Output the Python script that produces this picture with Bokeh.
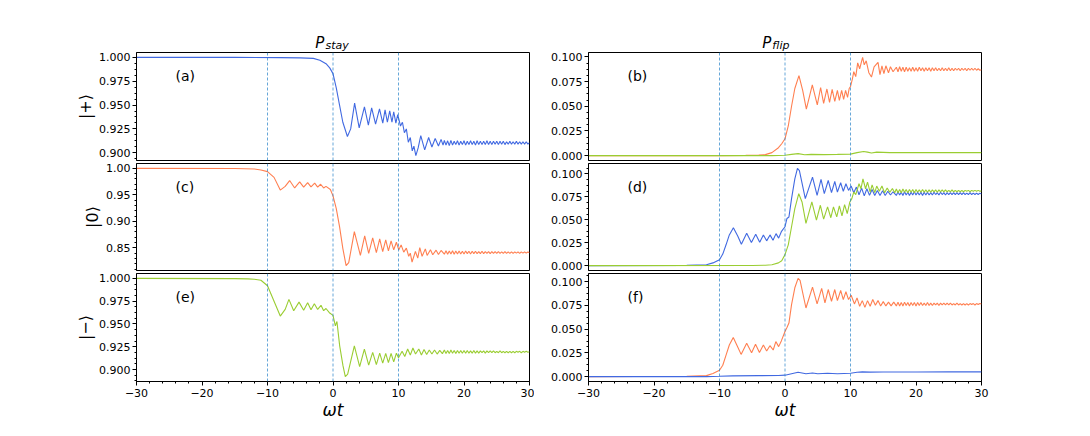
from bokeh.plotting import figure
from bokeh.models import Range1d, FixedTicker, PrintfTickFormatter, Label, Span
from bokeh.layouts import column, row
from bokeh.embed import file_html
from bokeh.resources import INLINE

# ---------------- data ----------------
TAIL_T = [17.0, 17.25, 17.5, 17.75, 18.0, 18.25, 18.5, 18.75, 19.0, 19.25,
          19.5, 19.75, 20.0, 20.25, 20.5, 20.75, 21.0, 21.25, 21.5, 21.75,
          22.0, 22.25, 22.5, 22.75, 23.0, 23.25, 23.5, 23.75, 24.0, 24.25,
          24.5, 24.75, 25.0, 25.25, 25.5, 25.75, 26.0, 26.25, 26.5, 26.75,
          27.0, 27.25, 27.5, 27.75, 28.0, 28.25, 28.5, 28.75, 29.0, 29.25,
          29.5, 29.75, 30.0]

# (a) P_stay |+>  (blue)
A_T = [-30, -15, -8, -5, -3, -2, -1, -0.5, 0,
       0.5, 1.0, 1.5, 2.2, 2.7, 3.3, 4.0, 4.8, 5.4, 5.9,
       6.5, 7.1, 7.6, 7.95, 8.3, 8.66, 9.0, 9.27, 9.6, 9.88,
       10.1, 10.3, 10.6, 10.9, 11.2, 11.5, 11.8, 12.1, 12.35, 12.65,
       13.0, 13.4, 14.0, 14.6, 15.1, 15.6, 16.1, 16.5, 16.8]
A_Y = [1.000, 1.000, 0.9998, 0.9995, 0.999, 0.997, 0.993, 0.989, 0.983,
       0.968, 0.950, 0.932, 0.917, 0.925, 0.952, 0.926, 0.948, 0.929, 0.947,
       0.930, 0.946, 0.931, 0.945, 0.932, 0.944, 0.932, 0.943, 0.931, 0.940,
       0.934, 0.928, 0.932, 0.921, 0.925, 0.911, 0.916, 0.902, 0.907, 0.897,
       0.905, 0.918, 0.903, 0.916, 0.906, 0.915, 0.907, 0.914, 0.908]
A_TAIL = [0.913, 0.908, 0.9125, 0.9075, 0.913, 0.908, 0.912, 0.9085, 0.9125, 0.908,
          0.912, 0.9085, 0.9125, 0.908, 0.912, 0.9085, 0.9125, 0.9085, 0.912, 0.908,
          0.9125, 0.9085, 0.912, 0.9085, 0.912, 0.9085, 0.9125, 0.9085, 0.912, 0.9085,
          0.912, 0.909, 0.912, 0.9085, 0.912, 0.909, 0.912, 0.9085, 0.9115, 0.909,
          0.912, 0.909, 0.9115, 0.909, 0.912, 0.909, 0.9115, 0.909, 0.9115, 0.909,
          0.9115, 0.909, 0.9105]

# (b) P_flip from |+>  (orange -> |0>, green -> |->)
B_T = [-30, -10, -6, -4, -3, -2, -1, -0.5, 0,
       0.5, 1.0, 1.5, 2.13, 2.7, 3.26, 4.17, 4.93, 5.44, 5.9,
       6.4, 6.8, 7.2, 7.6, 8.0, 8.3, 8.65, 8.95, 9.25, 9.55,
       9.8, 10.0, 10.3, 10.5, 10.8, 11.1, 11.4, 11.85, 12.1, 12.4,
       12.8, 13.2, 13.6, 14.2, 14.5, 14.8, 15.1, 15.4, 15.8, 16.1, 16.5]
B_Y = [0.0, 0.0, 0.0002, 0.0006, 0.001, 0.003, 0.008, 0.012, 0.017,
       0.030, 0.050, 0.068, 0.081, 0.066, 0.047, 0.0717, 0.0513, 0.069, 0.053,
       0.0675, 0.054, 0.067, 0.055, 0.066, 0.056, 0.066, 0.057, 0.066, 0.059,
       0.068, 0.070, 0.078, 0.085, 0.080, 0.094, 0.088, 0.0995, 0.092, 0.096,
       0.084, 0.0796, 0.090, 0.0945, 0.082, 0.091, 0.083, 0.091, 0.084, 0.090, 0.085]
B_TAIL = [0.0895, 0.085, 0.090, 0.0855, 0.0895, 0.085, 0.0895, 0.0855, 0.089, 0.0855,
          0.0895, 0.0855, 0.089, 0.0855, 0.0895, 0.086, 0.089, 0.0855, 0.089, 0.086,
          0.089, 0.0855, 0.089, 0.086, 0.089, 0.086, 0.0885, 0.086, 0.089, 0.086,
          0.0885, 0.086, 0.089, 0.086, 0.0885, 0.086, 0.0885, 0.0865, 0.0885, 0.086,
          0.0885, 0.0865, 0.0885, 0.086, 0.0885, 0.0865, 0.0885, 0.0865, 0.0885, 0.0865,
          0.088, 0.0865, 0.087]
BG_T = [-30, -2, 0, 1.0, 2.0, 3.0, 4.0, 6.0, 8.0, 10.0,
        11.0, 12.0, 12.6, 13.2, 14.0, 16.0, 20.0, 25.0, 30.0]
BG_Y = [0.0, 0.0, 0.0003, 0.0012, 0.002, 0.0008, 0.0012, 0.001, 0.0012, 0.0015,
        0.003, 0.0042, 0.0035, 0.0026, 0.0035, 0.003, 0.0032, 0.003, 0.003]

# (c) P_stay |0>  (orange)
C_T = [-30, -15, -12, -11, -10, -9, -8.05, -7.3, -6.62, -5.85,
       -5.09, -4.48, -3.87, -3.36, -2.80, -2.34, -1.89, -1.43, -1.07, -0.4,
       0, 0.5, 1.0, 1.5, 2.0, 2.4, 3.26, 4.18, 4.84, 5.45,
       6.06, 6.62, 7.13, 7.59, 8.05, 8.46, 8.87, 9.27, 9.68, 10.04,
       10.4, 10.8, 11.2, 11.56, 11.8, 12.07, 12.58, 12.94, 13.25, 13.6,
       14.1, 14.37, 14.88, 15.23, 15.74, 16.1, 16.5]
C_Y = [1.000, 0.9998, 0.9988, 0.997, 0.9938, 0.983, 0.959, 0.966, 0.977, 0.963,
       0.9745, 0.9645, 0.973, 0.965, 0.972, 0.9645, 0.970, 0.963, 0.966, 0.960,
       0.948, 0.924, 0.890, 0.849, 0.8164, 0.822, 0.8805, 0.8357, 0.8724, 0.8394,
       0.869, 0.841, 0.8668, 0.843, 0.865, 0.8444, 0.863, 0.8463, 0.8606, 0.846,
       0.8556, 0.842, 0.8494, 0.834, 0.840, 0.8232, 0.8432, 0.8307, 0.8506, 0.834,
       0.848, 0.8357, 0.8463, 0.837, 0.8456, 0.8375, 0.845]
C_TAIL = [0.838, 0.8445, 0.838, 0.844, 0.8385, 0.8445, 0.838, 0.844, 0.8385, 0.844,
          0.8385, 0.8435, 0.8385, 0.844, 0.839, 0.8435, 0.8385, 0.8435, 0.839, 0.8435,
          0.839, 0.843, 0.839, 0.8435, 0.839, 0.843, 0.8395, 0.843, 0.839, 0.843,
          0.8395, 0.843, 0.8395, 0.843, 0.8395, 0.8425, 0.8395, 0.843, 0.8395, 0.8425,
          0.8395, 0.8425, 0.8395, 0.8425, 0.84, 0.8425, 0.8395, 0.8425, 0.84, 0.8425,
          0.84, 0.842, 0.841]

# (d) P_flip from |0>  (blue -> |+>, green -> |->)
D_T = [-30, -15, -12, -11, -10, -9.5, -9, -8.5, -7.88, -7.2,
       -6.66, -5.85, -5.13, -4.47, -3.86, -3.3, -2.8, -2.29, -1.83, -1.37,
       -0.97, -0.56, 0, 0.3, 0.6, 1.0, 1.5, 1.9, 2.2, 3.1,
       4.2, 4.9, 5.5, 6.0, 6.6, 7.1, 7.6, 8.0, 8.5, 8.9,
       9.3, 9.7, 10.1, 10.5, 10.9, 11.3, 11.7, 12.1, 12.5, 12.9,
       13.3, 13.7, 14.1, 14.5, 14.9, 15.3, 15.7, 16.1, 16.5]
D_Y = [0.0, 0.0003, 0.001, 0.003, 0.0065, 0.0126, 0.0227, 0.0335, 0.0414, 0.032,
       0.0234, 0.0353, 0.0252, 0.0342, 0.0255, 0.0335, 0.027, 0.0335, 0.0277, 0.0349,
       0.030, 0.037, 0.0424, 0.0514, 0.053, 0.073, 0.0946, 0.106, 0.1036, 0.073,
       0.0964, 0.0766, 0.0939, 0.0784, 0.0928, 0.0795, 0.0917, 0.0802, 0.0903, 0.081,
       0.0892, 0.082, 0.0867, 0.0795, 0.0856, 0.0773, 0.0845, 0.076, 0.0838, 0.0766,
       0.083, 0.0765, 0.082, 0.0765, 0.0815, 0.0765, 0.081, 0.077, 0.0805]
D_TAIL = [0.0765, 0.0805, 0.077, 0.080, 0.0765, 0.0805, 0.077, 0.080, 0.0765, 0.080,
          0.077, 0.0805, 0.077, 0.080, 0.077, 0.080, 0.0765, 0.080, 0.077, 0.080,
          0.077, 0.0795, 0.077, 0.080, 0.0775, 0.0795, 0.077, 0.080, 0.0775, 0.0795,
          0.077, 0.0795, 0.0775, 0.0795, 0.0775, 0.0795, 0.0775, 0.0795, 0.0775, 0.0795,
          0.0775, 0.0795, 0.0775, 0.079, 0.0775, 0.0795, 0.0775, 0.079, 0.0775, 0.079,
          0.0775, 0.079, 0.078]
DG_T = [-30, -5, -3, -2, -1, -0.5, 0, 0.5, 1.0, 1.5,
        2.1, 2.6, 3.2, 4.1, 4.8, 5.4, 5.9, 6.5, 7.0, 7.4,
        7.9, 8.3, 8.7, 9.1, 9.5, 9.9, 10.2, 10.5, 10.8, 11.3,
        11.6, 11.9, 12.3, 12.6, 13.0, 13.3, 13.7, 14.0, 14.4, 14.8,
        15.2, 15.6, 16.0, 16.4, 16.75]
DG_Y = [0.0, 0.0002, 0.0005, 0.001, 0.003, 0.0054, 0.012, 0.0227, 0.0424, 0.0622,
        0.0784, 0.0694, 0.046, 0.0694, 0.0496, 0.0658, 0.0507, 0.064, 0.0522, 0.064,
        0.0532, 0.0651, 0.0543, 0.0665, 0.0568, 0.0694, 0.073, 0.0802, 0.0773, 0.0892,
        0.0838, 0.0946, 0.0838, 0.091, 0.0802, 0.088, 0.0795, 0.0867, 0.081, 0.0867,
        0.0795, 0.0845, 0.080, 0.084, 0.0795]
DG_TAIL = [0.0835, 0.0795, 0.083, 0.0795, 0.0835, 0.080, 0.083, 0.0795, 0.083, 0.080,
           0.083, 0.0795, 0.083, 0.080, 0.0825, 0.080, 0.083, 0.080, 0.0825, 0.080,
           0.0825, 0.080, 0.0825, 0.0805, 0.0825, 0.080, 0.0825, 0.0805, 0.0825, 0.0805,
           0.0825, 0.0805, 0.082, 0.0805, 0.0825, 0.0805, 0.082, 0.0805, 0.082, 0.0805,
           0.082, 0.0805, 0.082, 0.081, 0.082, 0.0805, 0.082, 0.081, 0.082, 0.081,
           0.082, 0.081, 0.0815]

# (e) P_stay |->  (green)
E_T = [-30, -15, -13, -12, -11, -10, -9, -8.05, -7.3, -6.73,
       -6.0, -5.19, -4.48, -3.87, -3.36, -2.85, -2.34, -1.83, -1.43, -1.07,
       -0.5, 0, 0.36, 0.6, 1.02, 1.53, 1.88, 2.24, 3.26, 4.07,
       4.79, 5.45, 6.06, 6.62, 7.13, 7.59, 8.05, 8.46, 8.87, 9.27,
       9.68, 10.0, 10.55, 10.96, 11.4, 11.8, 12.2, 12.6, 13.1, 13.5,
       13.9, 14.3, 14.7, 15.1, 15.5, 15.9, 16.3, 16.7]
E_Y = [1.000, 0.9998, 0.9995, 0.999, 0.998, 0.9919, 0.975, 0.9587, 0.966, 0.977,
       0.9646, 0.974, 0.965, 0.9734, 0.9657, 0.9723, 0.966, 0.9705, 0.9646, 0.967,
       0.962, 0.9594, 0.948, 0.9528, 0.926, 0.904, 0.8923, 0.895, 0.926, 0.9033,
       0.9225, 0.9048, 0.9188, 0.9055, 0.918, 0.907, 0.9177, 0.9077, 0.9177, 0.9085,
       0.918, 0.913, 0.920, 0.9144, 0.9225, 0.9159, 0.9236, 0.917, 0.9225, 0.916,
       0.922, 0.9165, 0.9215, 0.917, 0.9215, 0.917, 0.921, 0.9175]
E_TAIL = [0.9215, 0.9175, 0.921, 0.9175, 0.9215, 0.918, 0.921, 0.9175, 0.921, 0.918,
          0.921, 0.918, 0.921, 0.918, 0.921, 0.918, 0.9205, 0.918, 0.921, 0.918,
          0.9205, 0.918, 0.9205, 0.9185, 0.9205, 0.918, 0.9205, 0.9185, 0.9205, 0.9185,
          0.9205, 0.9185, 0.920, 0.9185, 0.9205, 0.9185, 0.920, 0.9185, 0.920, 0.9185,
          0.920, 0.9185, 0.920, 0.9185, 0.920, 0.919, 0.920, 0.9185, 0.920, 0.919,
          0.920, 0.919, 0.9195]

# (f) P_flip from |->  (orange -> |0>, blue -> |+>)
F_T = [-30, -15, -12, -11, -10, -9.5, -9, -8.5, -7.9, -7.2,
       -6.7, -5.85, -5.1, -4.5, -3.9, -3.3, -2.8, -2.3, -1.8, -1.4,
       -0.97, -0.56, 0, 0.3, 0.6, 1.0, 1.5, 2.0, 2.3, 3.2,
       4.2, 4.9, 5.6, 6.1, 6.6, 7.1, 7.6, 8.0, 8.5, 8.9,
       9.3, 9.7, 10.1, 10.6, 11.0, 11.4, 11.8, 12.2, 12.6, 13.0,
       13.4, 13.8, 14.2, 14.6, 15.0, 15.4, 15.8, 16.2, 16.6]
F_Y = [0.0, 0.0003, 0.001, 0.0032, 0.0067, 0.012, 0.0227, 0.0333, 0.0411, 0.031,
       0.0234, 0.0351, 0.0252, 0.034, 0.0255, 0.0333, 0.027, 0.0326, 0.028, 0.0369,
       0.0316, 0.0376, 0.0475, 0.0518, 0.0564, 0.0759, 0.0936, 0.1035, 0.1014, 0.0723,
       0.0943, 0.0766, 0.0929, 0.0777, 0.0918, 0.0794, 0.0918, 0.0801, 0.0908, 0.0812,
       0.0894, 0.0812, 0.0858, 0.0766, 0.083, 0.0741, 0.0801, 0.073, 0.0801, 0.0741,
       0.0812, 0.0752, 0.0801, 0.0745, 0.079, 0.0745, 0.0785, 0.0745, 0.0785]
F_TAIL = [0.0745, 0.0785, 0.0745, 0.078, 0.0745, 0.0785, 0.075, 0.078, 0.0745, 0.078,
          0.075, 0.078, 0.0745, 0.078, 0.075, 0.078, 0.075, 0.0775, 0.075, 0.078,
          0.075, 0.0775, 0.075, 0.0775, 0.0755, 0.0775, 0.075, 0.0775, 0.0755, 0.0775,
          0.0755, 0.0775, 0.0755, 0.0775, 0.0755, 0.077, 0.0755, 0.0775, 0.0755, 0.077,
          0.0755, 0.077, 0.0755, 0.077, 0.0755, 0.077, 0.076, 0.077, 0.0755, 0.077,
          0.076, 0.077, 0.0765]
FB_T = [-30, -12, -10, -8, -4, -1, 0, 1.0, 2.0, 2.6,
        3.2, 4.2, 5.0, 6.5, 8.0, 10.0, 11.0, 11.8, 13.0, 15.0,
        20.0, 25.0, 30.0]
FB_Y = [0.0, 0.0, 0.0003, 0.0008, 0.001, 0.0012, 0.0015, 0.003, 0.0045, 0.0038,
        0.003, 0.0038, 0.003, 0.0035, 0.003, 0.0035, 0.0045, 0.005, 0.0047, 0.0049,
        0.0048, 0.005, 0.005]

X_TICKS = [-30, -20, -10, 0, 10, 20, 30]
V_LINES = [-10, 0, 10]
KETS = ["|+⟩", "|0⟩", "|−⟩"]
PANEL_LABELS = ["(a)", "(b)", "(c)", "(d)", "(e)", "(f)"]
TITLES = [("P", "stay"), ("P", "flip")]

BLUE = "#4169e1"
ORANGE = "#ff7f50"
GREEN = "#9acd32"
VCOL = "#2a84c8"
FONT = "DejaVu Sans"

LEFT_W, RIGHT_W = 534, 457
LEFT_BL, LEFT_BR = 136, 5
RIGHT_BL, RIGHT_BR = 54, 10
STRIP_H = 52


def series(th, yh, tail=None):
    t = list(th)
    y = list(yh)
    if tail is not None:
        t += TAIL_T
        y += tail
    n = min(len(t), len(y))
    return t[:n], y[:n]


def minors(lo, hi, step):
    out = []
    k = 0
    while lo + k * step <= hi + 1e-12:
        out.append(round(lo + k * step, 6))
        k += 1
    return out


def title_strip(col):
    left = col == 0
    h = STRIP_H
    p = figure(width=LEFT_W if left else RIGHT_W, height=h, output_backend="svg",
               toolbar_location=None, x_range=Range1d(-30, 30), y_range=Range1d(0, h),
               x_axis_location=None, y_axis_location=None,
               min_border_left=LEFT_BL if left else RIGHT_BL,
               min_border_right=LEFT_BR if left else RIGHT_BR,
               min_border_top=0, min_border_bottom=0)
    p.grid.visible = False
    p.outline_line_color = None
    main, sub = TITLES[col]
    dx = -8.6 if left else -13.7
    p.add_layout(Label(x=0, y=9.5, x_offset=dx, text=main,
                       text_font=FONT, text_font_style="italic",
                       text_font_size="15px", text_align="right",
                       text_baseline="alphabetic", text_color="black"))
    p.add_layout(Label(x=0, y=7.5, x_offset=dx + 1, text=sub,
                       text_font=FONT, text_font_style="italic",
                       text_font_size="11px", text_align="left",
                       text_baseline="alphabetic", text_color="black"))
    return p


def make_panel(col, rowi, curves, yticks, ystep_minor, fmt, ket=None):
    left = col == 0
    if rowi == 0:
        fh, bt, bb = 108, 0, 3
    elif rowi == 1:
        fh, bt, bb = 107, 0, 3
    else:
        fh, bt, bb = 108, 0, 46
    allv = [v for c in curves for v in c[1]]
    lo, hi = min(allv), max(allv)
    m = 0.05 * (hi - lo)
    y0, y1 = lo - m, hi + m
    p = figure(width=LEFT_W if left else RIGHT_W, height=fh + bt + bb,
               output_backend="svg", toolbar_location=None,
               x_range=Range1d(-30, 30), y_range=Range1d(y0, y1),
               x_axis_location="below" if rowi == 2 else None,
               min_border_left=LEFT_BL if left else RIGHT_BL,
               min_border_right=LEFT_BR if left else RIGHT_BR,
               min_border_top=bt, min_border_bottom=bb)
    p.grid.visible = False
    p.outline_line_color = "black"
    p.outline_line_width = 1
    p.background_fill_color = "white"
    p.border_fill_color = "white"

    for x in V_LINES:
        p.add_layout(Span(location=x, dimension="height", line_color=VCOL,
                          line_width=0.8, line_dash="3 2", line_alpha=0.9))
    for c in curves:
        p.line(c[0], c[1], line_color=c[2], line_width=1.1)

    ya = p.yaxis[0]
    step = yticks[1] - yticks[0]
    ya.ticker = FixedTicker(ticks=yticks,
                            minor_ticks=minors(yticks[0] - 2 * step,
                                               yticks[-1] + 2 * step, ystep_minor))
    ya.formatter = PrintfTickFormatter(format=fmt)
    ya.major_label_text_font = FONT
    ya.major_label_text_font_size = "11px"
    ya.major_label_text_color = "black"
    ya.major_tick_out = 4
    ya.major_tick_in = 0
    ya.minor_tick_out = 2
    ya.minor_tick_in = 0
    ya.major_label_standoff = 2
    ya.axis_line_color = "black"
    if ket is not None:
        ya.axis_label = ket
        ya.axis_label_text_font = FONT
        ya.axis_label_text_font_style = "normal"
        ya.axis_label_text_font_size = "16px"
        ya.axis_label_standoff = 1
        ya.axis_label_text_color = "black"

    if rowi == 2:
        xa = p.xaxis[0]
        xa.ticker = FixedTicker(ticks=X_TICKS, minor_ticks=list(range(-30, 31, 2)))
        xa.major_label_overrides = {v: str(v).replace("-", "\u2212") for v in X_TICKS}
        xa.major_label_text_font = FONT
        xa.major_label_text_font_size = "11px"
        xa.major_label_text_color = "black"
        xa.major_tick_out = 4
        xa.major_tick_in = 0
        xa.minor_tick_out = 2
        xa.minor_tick_in = 0
        xa.major_label_standoff = 3
        xa.axis_line_color = "black"
        xa.axis_label = "ωt"
        xa.axis_label_text_font = FONT
        xa.axis_label_text_font_style = "italic"
        xa.axis_label_text_font_size = "17px"
        xa.axis_label_standoff = 0
        xa.axis_label_text_color = "black"

    p.add_layout(Label(x=-30, y=y1, x_offset=39, y_offset=-23,
                       text=PANEL_LABELS[rowi * 2 + col], text_font=FONT,
                       text_font_size="14px", text_baseline="middle",
                       text_align="left", text_color="black"))
    return p


ta, ya_ = series(A_T, A_Y, A_TAIL)
tb, yb = series(B_T, B_Y, B_TAIL)
tbg, ybg = series(BG_T, BG_Y)
tc, yc = series(C_T, C_Y, C_TAIL)
td, yd = series(D_T, D_Y, D_TAIL)
tdg, ydg = series(DG_T, DG_Y, DG_TAIL)
te, ye = series(E_T, E_Y, E_TAIL)
tf, yf = series(F_T, F_Y, F_TAIL)
tfb, yfb = series(FB_T, FB_Y)

T025 = [0.900, 0.925, 0.950, 0.975, 1.000]
F025 = [0.000, 0.025, 0.050, 0.075, 0.100]
T05 = [0.85, 0.90, 0.95, 1.00]

sa = title_strip(0)
sb = title_strip(1)
pa = make_panel(0, 0, [(ta, ya_, BLUE)], T025, 0.00625, "%.3f", KETS[0])
pb = make_panel(1, 0, [(tb, yb, ORANGE), (tbg, ybg, GREEN)], F025, 0.00625, "%.3f")
pc = make_panel(0, 1, [(tc, yc, ORANGE)], T05, 0.01, "%.2f", KETS[1])
pd = make_panel(1, 1, [(td, yd, BLUE), (tdg, ydg, GREEN)], F025, 0.00625, "%.3f")
pe = make_panel(0, 2, [(te, ye, GREEN)], T025, 0.00625, "%.3f", KETS[2])
pf = make_panel(1, 2, [(tf, yf, ORANGE), (tfb, yfb, BLUE)], F025, 0.00625, "%.3f")

layout = column(row(sa, sb), row(pa, pb), row(pc, pd), row(pe, pf))
open("out.html", "w").write(file_html(layout, INLINE))
